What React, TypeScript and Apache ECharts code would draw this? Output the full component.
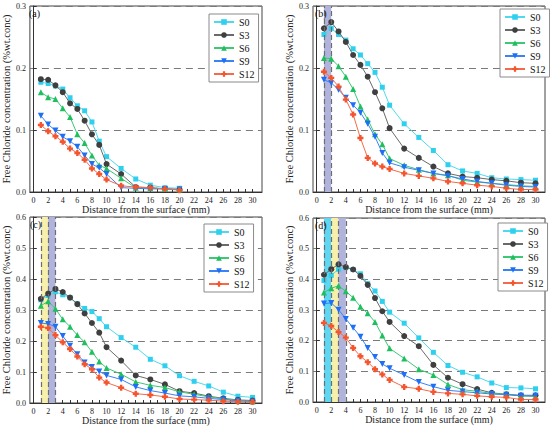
import React, { useEffect, useRef } from "react";
import * as echarts from "echarts";

const SERIES_NAMES = ["S0", "S3", "S6", "S9", "S12"];
const PANEL_LABELS = ["(a)", "(b)", "(c)", "(d)"];
const X_A = [1, 2, 3, 4, 5, 6, 7, 8, 9, 10, 12, 14, 16, 18, 20];
const X_FULL = [1, 2, 3, 4, 5, 6, 7, 8, 9, 10, 12, 14, 16, 18, 20, 22, 24, 26, 28, 30];
const X_TICK_LABELS = [0, 2, 4, 6, 8, 10, 12, 14, 16, 18, 20, 22, 24, 26, 28, 30];
const X_TICKS = Array.from({ length: 31 }, (_, i) => i);
const Y_MAX = [0.3, 0.3, 0.6, 0.6];

// panel (a)
const A_S0 = [0.177, 0.175, 0.171, 0.166, 0.152, 0.139, 0.131, 0.113, 0.082, 0.057, 0.038, 0.021, 0.011, 0.007, 0.006];
const A_S3 = [0.182, 0.181, 0.172, 0.161, 0.143, 0.134, 0.115, 0.093, 0.076, 0.045, 0.029, 0.008, 0.007, 0.005, 0.004];
const A_S6 = [0.161, 0.153, 0.150, 0.135, 0.121, 0.093, 0.079, 0.059, 0.043, 0.038, 0.022, 0.007, 0.006, 0.005, 0.004];
const A_S9 = [0.123, 0.109, 0.099, 0.089, 0.082, 0.073, 0.059, 0.045, 0.039, 0.029, 0.007, 0.006, 0.005, 0.005, 0.004];
const A_S12 = [0.108, 0.098, 0.090, 0.081, 0.070, 0.063, 0.052, 0.038, 0.029, 0.020, 0.010, 0.008, 0.007, 0.005, 0.003];

// panel (b)
const B_S0 = [0.254, 0.264, 0.254, 0.245, 0.231, 0.221, 0.207, 0.193, 0.169, 0.140, 0.110, 0.088, 0.067, 0.044, 0.034, 0.030, 0.023, 0.021, 0.020, 0.019];
const B_S3 = [0.264, 0.274, 0.259, 0.242, 0.221, 0.205, 0.186, 0.161, 0.135, 0.103, 0.070, 0.055, 0.041, 0.030, 0.025, 0.023, 0.020, 0.018, 0.015, 0.014];
const B_S6 = [0.216, 0.215, 0.203, 0.186, 0.166, 0.138, 0.117, 0.093, 0.077, 0.054, 0.043, 0.036, 0.030, 0.027, 0.019, 0.016, 0.014, 0.012, 0.010, 0.009];
const B_S9 = [0.181, 0.176, 0.165, 0.152, 0.140, 0.128, 0.110, 0.089, 0.063, 0.047, 0.040, 0.035, 0.030, 0.026, 0.021, 0.017, 0.014, 0.011, 0.009, 0.008];
const B_S12 = [0.194, 0.184, 0.170, 0.149, 0.125, 0.087, 0.055, 0.046, 0.041, 0.037, 0.030, 0.026, 0.022, 0.017, 0.014, 0.011, 0.009, 0.006, 0.004, 0.004];

// panel (c)
const C_S0 = [0.333, 0.347, 0.359, 0.349, 0.340, 0.320, 0.305, 0.295, 0.272, 0.246, 0.211, 0.180, 0.141, 0.120, 0.088, 0.070, 0.055, 0.035, 0.022, 0.018];
const C_S3 = [0.336, 0.353, 0.368, 0.358, 0.340, 0.319, 0.289, 0.258, 0.227, 0.180, 0.137, 0.089, 0.076, 0.060, 0.038, 0.032, 0.022, 0.015, 0.010, 0.008];
const C_S6 = [0.314, 0.328, 0.304, 0.270, 0.246, 0.219, 0.196, 0.165, 0.134, 0.113, 0.093, 0.068, 0.057, 0.050, 0.036, 0.028, 0.020, 0.013, 0.008, 0.005];
const C_S9 = [0.258, 0.255, 0.246, 0.216, 0.185, 0.157, 0.131, 0.116, 0.102, 0.089, 0.076, 0.052, 0.040, 0.032, 0.023, 0.020, 0.015, 0.011, 0.007, 0.005];
const C_S12 = [0.246, 0.242, 0.219, 0.196, 0.174, 0.150, 0.125, 0.109, 0.082, 0.066, 0.049, 0.030, 0.026, 0.020, 0.013, 0.011, 0.009, 0.006, 0.004, 0.003];

// panel (d)
const D_S0 = [0.396, 0.413, 0.433, 0.438, 0.432, 0.418, 0.386, 0.362, 0.328, 0.293, 0.257, 0.209, 0.162, 0.119, 0.097, 0.082, 0.062, 0.047, 0.046, 0.043];
const D_S3 = [0.415, 0.433, 0.449, 0.440, 0.432, 0.411, 0.382, 0.339, 0.296, 0.261, 0.215, 0.182, 0.121, 0.079, 0.058, 0.042, 0.030, 0.025, 0.022, 0.022];
const D_S6 = [0.357, 0.371, 0.379, 0.361, 0.340, 0.311, 0.289, 0.261, 0.217, 0.175, 0.142, 0.107, 0.088, 0.057, 0.040, 0.035, 0.028, 0.025, 0.020, 0.018];
const D_S9 = [0.321, 0.323, 0.301, 0.271, 0.242, 0.213, 0.176, 0.147, 0.124, 0.110, 0.088, 0.065, 0.050, 0.038, 0.034, 0.030, 0.026, 0.024, 0.020, 0.020];
const D_S12 = [0.258, 0.248, 0.228, 0.210, 0.176, 0.149, 0.130, 0.107, 0.090, 0.072, 0.049, 0.043, 0.033, 0.028, 0.025, 0.020, 0.017, 0.015, 0.008, 0.008];

const PANEL_X = [X_A, X_FULL, X_FULL, X_FULL];
const PANEL_DATA = [
  [A_S0, A_S3, A_S6, A_S9, A_S12],
  [B_S0, B_S3, B_S6, B_S9, B_S12],
  [C_S0, C_S3, C_S6, C_S9, C_S12],
  [D_S0, D_S3, D_S6, D_S9, D_S12],
];

// shaded bands [from, to] per panel
const BANDS_B = [[1, 2]];
const BANDS_C = [[1, 2], [2, 3]];
const BANDS_D = [[1, 2], [2, 3], [3, 4]];
const PANEL_BANDS = [[], BANDS_B, BANDS_C, BANDS_D];
const BAND_COLORS_B = ["#b0b4dc"];
const BAND_COLORS_C = ["#f7efac", "#b0b4dc"];
const BAND_COLORS_D = ["#5fd6f2", "#f7efac", "#b0b4dc"];
const PANEL_BAND_COLORS = [[], BAND_COLORS_B, BAND_COLORS_C, BAND_COLORS_D];

const MARKER_COLORS = ["#2fd0ee", "#3f3f3f", "#1fbe5e", "#1d6ff5", "#f4552f"];
const LINE_COLORS = ["#4fd8f0", "#6a6a6a", "#3cc874", "#3a82f5", "#f56a4a"];
const SYMBOLS = [
  "rect",
  "circle",
  "triangle",
  "path://M0,0L10,0L5,9Z",
  "path://M3,0H7V3H10V7H7V10H3V7H0V3H3Z",
];
const SYMBOL_SIZES = [5, 6, 6, 6, 6];

const GRIDS = [
  { left: 27, top: 6, width: 235, height: 186 },
  { left: 313, top: 6, width: 232, height: 186 },
  { left: 28, top: 217, width: 234, height: 186 },
  { left: 313, top: 218, width: 232, height: 184 },
];
const LEGEND_POS = [
  { left: 209, top: 14 },
  { left: 500, top: 9 },
  { left: 204, top: 224 },
  { left: 498, top: 223 },
];

const FONT = "Liberation Serif";

export default function App() {
  const ref = useRef<HTMLDivElement>(null);
  useEffect(() => {
    document.body.style.margin = "0";
    if (!ref.current) return;
    const chart = echarts.init(ref.current, undefined, { renderer: "svg" });

    const xAxis = GRIDS.map((_, i) => ({
      type: "value",
      gridIndex: i,
      min: -0.5,
      max: 31.3,
      name: "Distance from the surface (mm)",
      nameLocation: "middle",
      nameGap: 12,
      nameTextStyle: { fontFamily: FONT, fontSize: 10, color: "#222" },
      axisLine: { show: true, onZero: false, lineStyle: { color: "#333", width: 1 } },
      axisTick: { show: true, inside: true, length: 3, customValues: X_TICKS, lineStyle: { color: "#333" } },
      axisLabel: { show: true, customValues: X_TICK_LABELS, margin: 4, fontFamily: FONT, fontSize: 8, color: "#222" },
      splitLine: { show: false },
    }));

    const yAxis = GRIDS.map((_, i) => ({
      type: "value",
      gridIndex: i,
      min: 0,
      max: Y_MAX[i],
      interval: 0.1,
      name: "Free Chloride concentration (%wt.conc)",
      nameLocation: "middle",
      nameGap: 15,
      nameTextStyle: { fontFamily: FONT, fontSize: 10.5, color: "#222" },
      axisLine: { show: true, lineStyle: { color: "#333", width: 1 } },
      axisTick: { show: true, inside: true, length: 3, lineStyle: { color: "#333" } },
      axisLabel: {
        margin: 4,
        fontFamily: FONT,
        fontSize: 8,
        color: "#222",
        formatter: (v: number) => v.toFixed(1),
      },
      splitLine: { show: true, lineStyle: { color: "#7a7a7a", type: [7, 5], width: 1 } },
    }));

    const series: any[] = [];
    PANEL_DATA.forEach((panel, p) => {
      const bands = PANEL_BANDS[p];
      if (bands.length) {
        const edges = Array.from(new Set(bands.flat()));
        series.push({
          type: "line",
          name: "band" + p,
          xAxisIndex: p,
          yAxisIndex: p,
          data: [],
          silent: true,
          z: 1,
          markArea: {
            silent: true,
            itemStyle: { opacity: 1 },
            data: bands.map((b, k) => [
              { xAxis: b[0], itemStyle: { color: PANEL_BAND_COLORS[p][k] } },
              { xAxis: b[1] },
            ]),
          },
          markLine: {
            silent: true,
            symbol: "none",
            label: { show: false },
            lineStyle: { color: "#6d6d6d", type: [5, 3], width: 1.2 },
            data: edges.map((e) => ({ xAxis: e })),
          },
        });
      }
      panel.forEach((vals, s) => {
        series.push({
          type: "line",
          name: SERIES_NAMES[s],
          xAxisIndex: p,
          yAxisIndex: p,
          z: 3 + s,
          data: PANEL_X[p].map((x, k) => [x, vals[k]]),
          symbol: SYMBOLS[s],
          symbolSize: SYMBOL_SIZES[s],
          showSymbol: true,
          itemStyle: { color: MARKER_COLORS[s] },
          lineStyle: { color: LINE_COLORS[s], width: 1 },
        });
      });
    });

    const legend = LEGEND_POS.map((pos) => ({
      ...pos,
      orient: "vertical",
      data: SERIES_NAMES,
      itemWidth: 20,
      itemHeight: 7,
      itemGap: 3,
      padding: [3, 4, 3, 4],
      borderColor: "#8a8a8a",
      borderWidth: 1,
      backgroundColor: "#fff",
      textStyle: { fontFamily: FONT, fontSize: 10, color: "#111" },
    }));

    const graphic = GRIDS.map((g, i) => ({
      type: "text",
      left: g.left + 2,
      top: g.top + 2,
      z: 100,
      style: { text: PANEL_LABELS[i], fontFamily: FONT, fontSize: 10, fill: "#111" },
    }));

    chart.setOption({
      animation: false,
      backgroundColor: "#fff",
      textStyle: { fontFamily: FONT },
      grid: GRIDS.map((g) => ({ ...g, show: true, borderColor: "#444", borderWidth: 1, backgroundColor: "transparent" })),
      xAxis,
      yAxis,
      legend,
      graphic,
      series,
    });
    return () => chart.dispose();
  }, []);
  return <div ref={ref} style={{ width: 550, height: 428 }} />;
}
